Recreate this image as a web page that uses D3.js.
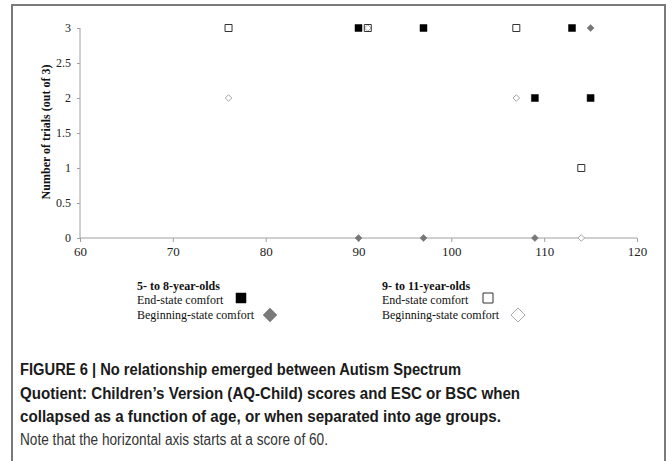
<!DOCTYPE html>
<html>
<head>
<meta charset="utf-8">
<script src="https://cdn.jsdelivr.net/npm/d3@7"></script>
<style>
  body { margin: 0; background: #fff; }
</style>
</head>
<body>
<script>
// AQ-Child score vs number of trials, split by age group
var youngEsc = [[90, 3], [97, 3], [113, 3], [109, 2], [115, 2]];
var youngBsc = [[90, 0], [97, 0], [109, 0], [115, 3]];
var olderEsc = [[76, 3], [91, 3], [107, 3], [114, 1]];
var olderBsc = [[76, 2], [91, 3], [107, 2], [114, 0]];

var xTicks = [60, 70, 80, 90, 100, 110, 120];
var yTicks = [0, 0.5, 1, 1.5, 2, 2.5, 3];

var captionBold = [
  "FIGURE 6 | No relationship emerged between Autism Spectrum",
  "Quotient: Children\u2019s Version (AQ-Child) scores and ESC or BSC when",
  "collapsed as a function of age, or when separated into age groups."
];
var captionNote = "Note that the horizontal axis starts at a score of 60.";
// measured line widths of the caption in the figure
var captionWidths = [441, 500, 481, 308];

var svgWidth = 672, svgHeight = 461;
var margin = {left: 80, top: 28};
var chartWidth = 557, chartHeight = 210;

var svg = d3.select("body").append("svg")
  .attr("width", svgWidth)
  .attr("height", svgHeight);

// figure frame
svg.append("rect")
  .attr("x", 12).attr("y", 5)
  .attr("width", 653).attr("height", 470)
  .attr("fill", "none")
  .attr("stroke", "#7a7a7a")
  .attr("stroke-width", 2);

var chartGroup = svg.append("g")
  .attr("transform", `translate(${margin.left}, ${margin.top})`);

var xScale = d3.scaleLinear().domain([60, 120]).range([0, chartWidth]);
var yScale = d3.scaleLinear().domain([0, 3]).range([chartHeight, 0]);

var bottomAxis = d3.axisBottom(xScale).tickValues(xTicks).tickSize(4).tickPadding(5)
  .tickFormat(d3.format(""));
var leftAxis = d3.axisLeft(yScale).tickValues(yTicks).tickSize(3).tickPadding(6)
  .tickFormat(d3.format(""));

function styleAxis(size) {
  return function(g) {
    g.selectAll("path, line").attr("stroke", "#a0a0a0");
    g.selectAll("text")
      .attr("font-family", "Liberation Serif, serif")
      .attr("font-size", size)
      .attr("fill", "#222");
  };
}

chartGroup.append("g")
  .attr("transform", `translate(0, ${chartHeight})`)
  .call(bottomAxis)
  .call(g => g.select(".domain").attr("d", `M0,0H${chartWidth}`))
  .call(styleAxis("13px"));

chartGroup.append("g")
  .call(leftAxis)
  .call(g => g.select(".domain").attr("d", `M0,0V${chartHeight}`))
  .call(styleAxis("12px"));

// y label
svg.append("text")
  .attr("transform", "translate(50, 132) rotate(-90)")
  .attr("text-anchor", "middle")
  .attr("font-family", "Liberation Serif, serif")
  .attr("font-weight", "bold")
  .attr("font-size", "12px")
  .attr("fill", "#111")
  .text("Number of trials (out of 3)");

var diamondPath = s => `M0,${-s}L${s},0L0,${s}L${-s},0Z`;
var squarePath = s => `M${-s},${-s}H${s}V${s}H${-s}Z`;

function plot(data, kind) {
  chartGroup.selectAll(null)
    .data(data)
    .enter()
    .append("path")
    .attr("transform", d => `translate(${xScale(d[0])}, ${yScale(d[1])})`)
    .attr("d", kind.d)
    .attr("fill", kind.fill)
    .attr("stroke", kind.stroke)
    .attr("stroke-width", kind.sw);
}

var markOlderBsc = {d: diamondPath(3.3), fill: "#fff", stroke: "#a8a8a8", sw: 1};
var markOlderEsc = {d: squarePath(3.5), fill: "none", stroke: "#333", sw: 1};
var markYoungBsc = {d: diamondPath(3.5), fill: "#777", stroke: "#777", sw: 0.5};
var markYoungEsc = {d: squarePath(3.5), fill: "#000", stroke: "#000", sw: 0.5};

plot(olderBsc, markOlderBsc);
plot(olderEsc, markOlderEsc);
plot(youngBsc, markYoungBsc);
plot(youngEsc, markYoungEsc);

// legends
function legend(x, title, markEsc, markBsc, escX, bscX) {
  var g = svg.append("g").attr("font-family", "Liberation Serif, serif")
    .attr("font-size", "12px").attr("fill", "#111");
  g.append("text").attr("x", x).attr("y", 290).attr("font-weight", "bold").text(title);
  g.append("text").attr("x", x).attr("y", 304).text("End-state  comfort");
  g.append("text").attr("x", x).attr("y", 319).text("Beginning-state  comfort");
  g.append("path").attr("transform", `translate(${escX}, 298)`)
    .attr("d", markEsc.d).attr("fill", markEsc.fill).attr("stroke", markEsc.stroke)
    .attr("stroke-width", markEsc.sw);
  g.append("path").attr("transform", `translate(${bscX}, 315)`)
    .attr("d", markBsc.d).attr("fill", markBsc.fill).attr("stroke", markBsc.stroke)
    .attr("stroke-width", markBsc.sw);
}

legend(137, "5- to 8-year-olds",
  {d: squarePath(5), fill: "#000", stroke: "#000", sw: 0.5},
  {d: diamondPath(7), fill: "#7a7a7a", stroke: "#7a7a7a", sw: 0.5}, 241, 270);
legend(382, "9- to 11-year-olds",
  {d: squarePath(5), fill: "none", stroke: "#333", sw: 1},
  {d: diamondPath(7), fill: "#fff", stroke: "#aaa", sw: 1}, 488, 518);

// caption
var cap = svg.append("g").attr("font-family", "Liberation Sans, Arial, sans-serif")
  .attr("font-size", "16px");
captionBold.forEach(function(line, i) {
  cap.append("text").attr("x", 20).attr("y", 375 + i * 23.5)
    .attr("font-weight", "bold").attr("fill", "#1a1a1a")
    .attr("textLength", captionWidths[i]).attr("lengthAdjust", "spacingAndGlyphs")
    .text(line);
});
cap.append("text").attr("x", 20).attr("y", 445)
  .attr("fill", "#333")
  .attr("textLength", captionWidths[3]).attr("lengthAdjust", "spacingAndGlyphs")
  .text(captionNote);
</script>
</body>
</html>
